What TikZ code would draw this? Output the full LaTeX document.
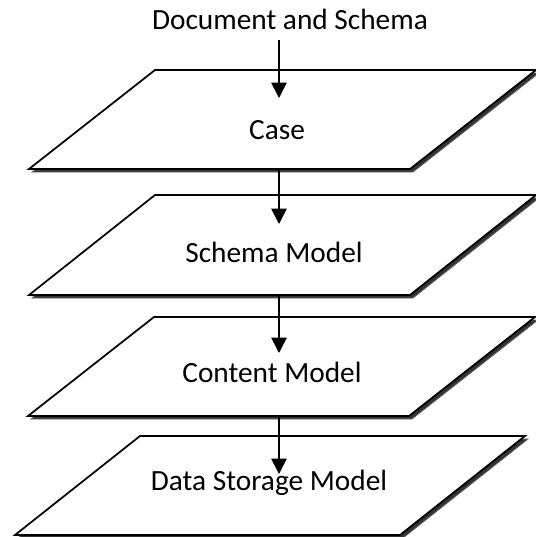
\documentclass[tikz,border=0pt]{standalone}
\usepackage{fontspec}
\setmainfont{Carlito}
\usetikzlibrary{arrows.meta}
\begin{document}
\begin{tikzpicture}[x=0.75pt,y=-0.75pt,
  layer/.style={draw=black,fill=white,line width=1.3pt,line join=miter},
  shade/.style={fill=black!80,draw=black!60,line width=0.6pt},
  lbl/.style={font=\fontsize{22}{26}\selectfont,inner sep=0pt,anchor=base},
  flow/.style={line width=1.2pt,-{Triangle[length=11.5pt,width=11.5pt]}}]
\useasboundingbox (0,0) rectangle (536,537);
% shadows
\fill[shade,shift={(3,3)}] (155,70) -- (536,70) -- (410,169) -- (29,169) -- cycle;
\fill[shade,shift={(3,3)}] (155,195) -- (536,195) -- (410,295) -- (29,295) -- cycle;
\fill[shade,shift={(3,3)}] (154,317) -- (535,317) -- (409,416) -- (28,416) -- cycle;
\fill[shade,shift={(3,3)}] (140,436) -- (525,436) -- (400,535) -- (15,535) -- cycle;
% layers
\draw[layer] (155,70) -- (536,70) -- (410,169) -- (29,169) -- cycle;
\draw[layer] (155,195) -- (536,195) -- (410,295) -- (29,295) -- cycle;
\draw[layer] (154,317) -- (535,317) -- (409,416) -- (28,416) -- cycle;
\draw[layer] (140,436) -- (525,436) -- (400,535) -- (15,535) -- cycle;
% labels
\node[lbl] (doc) at (290,29) {Document and Schema};
\node[lbl] (case) at (277,139) {Case};
\node[lbl] (schema) at (274,262) {Schema Model};
\node[lbl] (content) at (272,382) {Content Model};
\node[lbl] (storage) at (269,490) {Data Storage Model};
% arrow coordinates
\coordinate (a0s) at (279,40);  \coordinate (a0e) at (279,98);
\coordinate (a1s) at (279,170); \coordinate (a1e) at (279,224);
\coordinate (a2s) at (279,296); \coordinate (a2e) at (279,353);
\coordinate (a3s) at (279,417); \coordinate (a3e) at (279,474);
\draw[flow] (a0s) -- (a0e);
\draw[flow] (a1s) -- (a1e);
\draw[flow] (a2s) -- (a2e);
\draw[flow] (a3s) -- (a3e);
\end{tikzpicture}
\end{document}
